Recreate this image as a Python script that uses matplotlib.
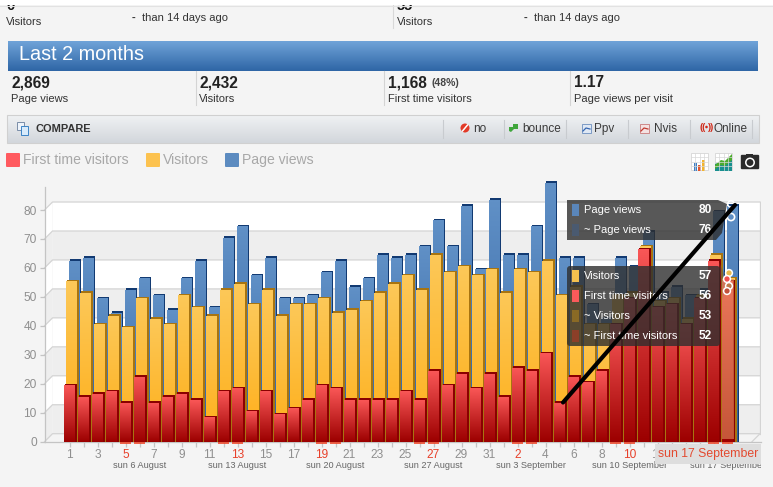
import numpy as np
import matplotlib
matplotlib.use("Agg")
import matplotlib.pyplot as plt
from matplotlib.patches import Rectangle, Polygon, Circle, FancyBboxPatch

plt.rcParams['font.family'] = ['Liberation Sans', 'DejaVu Sans']

W, H = 773, 487
# ---------- data ----------
day_labels = list(range(1, 32)) + list(range(1, 18))
first_time = [20,16,17,18,14,23,14,16,17,15,9,18,19,11,18,10,12,15,20,19,15,15,15,15,18,15,25,20,24,19,24,16,
              26,25,31,14,23,21,25,41,50,67,47,48,41,50,63,56]
visitors = [56,52,41,44,40,50,43,41,51,47,44,53,55,48,53,44,48,48,50,45,46,49,52,55,58,53,65,59,61,58,60,52,
            60,59,63,51,54,41,41,51,52,68,49,50,43,51,65,57]
page_views = [63,64,50,45,53,57,51,46,57,63,47,71,75,58,64,50,50,51,59,63,54,57,65,64,65,68,77,68,82,60,84,65,
              65,75,90,64,64,48,43,64,61,73,52,54,51,53,80,82]
y_ticks = [0,10,20,30,40,50,60,70,80]
weekend_idx = [4,5,11,12,18,19,25,26,32,33,39,40,46,47]
red_labels = [4,12,18,26,32,40,46]
sunday_idx = [5,12,19,26,33,40,47]
sunday_labels = ['sun 6 August','sun 13 August','sun 20 August','sun 27 August',
                 'sun 3 September','sun 10 September','sun 17 September']
stat_values = ['2,869','2,432','1,168','1.17']
stat_names = ['Page views','Visitors','First time visitors','Page views per visit']
legend_names = ['First time visitors','Visitors','Page views']
tip_top = [('Page views','80'),('~ Page views','76')]
tip_low = [('Visitors','57'),('First time visitors','56'),('~ Visitors','53'),('~ First time visitors','52')]

# ---------- scale helpers (pixel geometry of the chart) ----------
PX_DAY, PX_UNIT = 14.0, 2.896
X0, Y0 = 69.5, 441.7
AX_L, AX_R, AX_T = 44.5, 761.0, 170.0

fig = plt.figure(figsize=(W/100, H/100), dpi=100, facecolor='#f4f4f4')
ax = fig.add_axes([AX_L/W, 1-Y0/H, (AX_R-AX_L)/W, (Y0-AX_T)/H])
ax.set_xlim((AX_L-X0)/PX_DAY, (AX_R-X0)/PX_DAY)
ax.set_ylim(0, (Y0-AX_T)/PX_UNIT)
ax.patch.set_alpha(0)
ax.set_autoscale_on(False)

# 3D wall
dx, dy = 8/PX_DAY, 8/PX_UNIT
xl = (AX_L-X0)/PX_DAY
xb0, xb1 = xl+dx, (760-X0)/PX_DAY
grid = '#d4d4d4'
for i, v in enumerate(y_ticks[:-1]):
    c = '#eeeeee' if i % 2 == 0 else '#ffffff'
    ax.add_patch(Rectangle((xb0, v+dy), xb1-xb0, 10, fc=c, ec='none', zorder=1))
    ax.add_patch(Polygon([(xl, v), (xb0, v+dy), (xb0, v+10+dy), (xl, v+10)], fc=c, ec='none', zorder=1))
for v in y_ticks:
    ax.plot([xl, xb0, xb1], [v, v+dy, v+dy], color=grid, lw=0.9, zorder=1.5, clip_on=False)
ax.add_patch(Polygon([(xl, 0), (xb0, dy), (xb1, dy), (xb1-dx, 0)], fc='#f4f4f4', ec='none', zorder=1))
ax.plot([xb1, xb1], [dy, 80+dy], color=grid, lw=0.9, zorder=1.5)
ax.plot([xb1, xb1-dx], [dy, 0], color=grid, lw=0.9, zorder=1.5)

# bars
x = np.arange(len(day_labels))
FACE, SIDE, CAP = 10.7/PX_DAY, 2.0/PX_DAY, 0.5


def layer(vals, off_px, top_c, bot_c, dark, z):
    a, b = np.array(matplotlib.colors.to_rgb(top_c)), np.array(matplotlib.colors.to_rgb(bot_c))
    grad = np.linspace(0, 1, 64)[:, None, None] * (b-a)[None, None, :] + a[None, None, :]
    left = x + off_px/PX_DAY
    ax.bar(left+FACE, np.array(vals)-0.25, width=SIDE, align='edge', color=dark, zorder=z, lw=0)
    rects = ax.bar(left, np.array(vals)-CAP, width=FACE, align='edge', color=bot_c, zorder=z, lw=0)
    ax.bar(left+SIDE/2, CAP, bottom=np.array(vals)-CAP, width=FACE+SIDE/2, align='edge', color=dark, zorder=z+0.1, lw=0)
    for r in rects:
        im = ax.imshow(grad, extent=[r.get_x(), r.get_x()+r.get_width(), 0, r.get_height()],
                       aspect='auto', interpolation='bilinear', zorder=z+0.05, origin='upper')
        im.set_clip_path(r)


layer(page_views, -1.0, '#6090c6', '#2e5f9e', '#123a72', 3)
layer(visitors, -3.2, '#fcc858', '#ffae18', '#a87410', 4)
layer(first_time, -5.5, '#f95656', '#9c0000', '#8a0000', 5)

# axes
for s in ('top', 'right'):
    ax.spines[s].set_visible(False)
for s in ('left', 'bottom'):
    ax.spines[s].set_color('#c4c4c4')
    ax.spines[s].set_linewidth(0.9)
    ax.spines[s].set_zorder(2)
ax.spines['left'].set_bounds(0, (Y0-187)/PX_UNIT)
ax.set_yticks(y_ticks)
ax.set_xticks(x)
ax.set_xticklabels([str(d) if i % 2 == 0 else '' for i, d in enumerate(day_labels)])
ax.tick_params(axis='both', color='#c4c4c4', length=3.6, width=0.9, labelcolor='#8f8f8f', labelsize=8.6, pad=1.5)
ax.tick_params(axis='y', pad=2)
for i in red_labels:
    ax.get_xticklabels()[i].set_color('#e8402a')
ax.hlines([-0.55]*len(weekend_idx), np.array(weekend_idx)-5.5/PX_DAY, np.array(weekend_idx)+5.5/PX_DAY,
          color='#f03a1a', lw=1.1, clip_on=False, zorder=6)
clip_rect = Rectangle((0, 0), 761/W, 1, transform=fig.transFigure)
for i, t in zip(sunday_idx, sunday_labels):
    tx = ax.text(i, (Y0-466)/PX_UNIT, t, ha='center', va='center', fontsize=6.6, color='#666666', clip_on=True)
    tx.set_clip_path(clip_rect)

# ---------- page furniture and tooltips in pixel coordinates ----------
ui = fig.add_axes([0, 0, 1, 1], zorder=10)
ui.set_xlim(0, W); ui.set_ylim(H, 0); ui.axis('off'); ui.patch.set_alpha(0)
ui.set_autoscale_on(False)
T = lambda x_, y_, s, **k: ui.text(x_, y_, s, va='center', **{'color': '#333333', 'fontsize': 8.0, **k})

# clipped top strip
T(6, 6, '0', fontsize=10.5, fontweight='bold', color='#111111')
T(397, 6, '55', fontsize=10.5, fontweight='bold', color='#111111')
ui.add_patch(Rectangle((0, 0), W, 5, fc='white', ec='none', zorder=3))
ui.plot([0, W], [5.5, 5.5], color='#e2e2e2', lw=0.8, zorder=3)
T(6, 22, 'Visitors'); T(397, 22, 'Visitors')
T(132, 18, '-', fontweight='bold'); T(142, 18, 'than 14 days ago')
T(524, 18, '-', fontweight='bold'); T(534, 18, 'than 14 days ago')
ui.plot([392.5, 392.5], [5, 28], color='#d8d8d8', lw=0.8)

# header
hdr = ui.imshow(np.linspace(0, 1, 32)[:, None], extent=[8, 758, 71, 41], aspect='auto', origin='upper',
                cmap=matplotlib.colors.LinearSegmentedColormap.from_list('h', ['#6fa3d8', '#2f66a6']))
T(19, 55, 'Last 2 months', color='white', fontsize=14.3)

# stats
for sx, v, n in zip([11, 199, 388, 574], stat_values, stat_names):
    T(sx, 82.5, v, fontsize=11.2, fontweight='bold', color='#222222')
    T(sx, 99, n)
T(431, 83, '(48%)', fontsize=7.6, fontweight='bold', color='#444444')
for sx in [196, 384, 570]:
    ui.plot([sx, sx], [71, 105], color='#d4d4d4', lw=0.8)

# compare bar
cb = ui.imshow(np.linspace(0, 1, 16)[:, None], extent=[7, 759, 143, 115], aspect='auto', origin='upper',
               cmap=matplotlib.colors.LinearSegmentedColormap.from_list('c', ['#eff1f3', '#d3d7dc']))
ui.add_patch(Rectangle((7, 115), 752, 28, fc='none', ec='#d0d0d0', lw=0.8))
ui.add_patch(Rectangle((17, 122), 7, 8, fc='#eef4fb', ec='#7a8ea8', lw=0.7))
ui.add_patch(Rectangle((21, 126), 7, 9, fc='#d8ebfb', ec='#3d84c6', lw=0.7))
T(36, 129, 'COMPARE', fontweight='bold', fontsize=7.9, color='#333333')
for sx, n in zip([473, 522, 594, 654, 714], ['no', 'bounce', 'Ppv', 'Nvis', 'Online']):
    T(sx, 129, n, fontsize=8.5, color='#3a3a3a')
for sx in [443, 504, 566, 628, 690, 752]:
    ui.plot([sx, sx], [120, 138], color='#c8cbcf', lw=0.8)
ui.add_patch(Circle((465, 128), 4.5, fc='#e23a28', ec='none'))
ui.plot([462.5, 467.5], [131, 125], color='white', lw=1.1)
ui.add_patch(Polygon([(509, 131), (509, 127), (513, 127), (513, 124), (518, 124), (518, 129), (514, 129), (511, 132)],
                     fc='#3fa63c', ec='none'))
ui.add_patch(Rectangle((582, 124), 9, 9, fc='#dfe8f4', ec='#6d8fbf', lw=0.6))
ui.plot([583, 586, 590], [131, 128, 129], color='#3566b0', lw=0.9)
ui.add_patch(Rectangle((640, 124), 9, 9, fc='#f4e2e2', ec='#c97a7a', lw=0.6))
ui.plot([641, 644, 648], [131, 128, 129], color='#c23a30', lw=0.9)
T(699, 127, '((', color='#d02818', fontsize=6.5, fontweight='bold')
T(708, 127, '))', color='#d02818', fontsize=6.5, fontweight='bold')
ui.add_patch(Circle((706.5, 127), 1.3, fc='#d02818', ec='none'))

# legend
for (lx, tx_, c), n in zip([(6, 23, '#ff5a5f'), (146, 163, '#fcc24f'), (225, 242, '#5c8bc0')], legend_names):
    ui.add_patch(FancyBboxPatch((lx+1, 154), 12, 12, boxstyle='round,pad=1', fc=c, ec='none'))
    T(tx_, 160, n, color='#a8a8a8', fontsize=10.1)

# toolbar icons
for gx in (691, 715):
    ui.add_patch(Rectangle((gx, 153), 17, 17, fc='white', ec='#cfcfcf', lw=0.5))
    for k in range(1, 4):
        ui.plot([gx+k*17/4]*2, [153, 170], color='#d8d8d8', lw=0.5)
        ui.plot([gx, gx+17], [153+k*17/4]*2, color='#d8d8d8', lw=0.5)
ui.add_patch(Rectangle((694, 163), 3, 8, fc='#3f7fc4', ec='none'))
ui.add_patch(Rectangle((698, 165), 3, 6, fc='#e2562e', ec='none'))
ui.add_patch(Rectangle((702, 160), 3, 11, fc='#f4b42c', ec='none'))
ui.add_patch(Polygon([(715, 171), (715, 164), (721, 162), (725, 163), (732, 156), (732, 171)], fc='#188f8f', ec='none'))
ui.add_patch(Polygon([(715, 165), (721, 160), (725, 161), (732, 154), (732, 160), (725, 166), (721, 165), (715, 169)], fc='#4cab2d', ec='none'))
ui.add_patch(FancyBboxPatch((742, 156), 16, 12, boxstyle='round,pad=1.2', fc='#2a2a2a', ec='none'))
ui.add_patch(Rectangle((746, 153.5), 7, 3, fc='#2a2a2a', ec='none'))
ui.add_patch(Circle((750, 162.5), 4.2, fc='#2a2a2a', ec='white', lw=1.1))

# highlighted last bar
ui.add_patch(Polygon([(719, 262), (727, 280), (722.5, 300)], fc='#555555', alpha=0.4, ec='none', zorder=4))
ui.add_patch(Rectangle((722, 279), 11.5, 160, fc='#e08a5c', alpha=0.62, ec='none', zorder=4))

# tooltips
tip_c = '#2e2e2e'
ui.add_patch(Polygon([(567, 200), (718, 200), (727, 204), (722, 233), (716, 240), (567, 240)],
                     fc=tip_c, alpha=0.8, ec='none', zorder=5))
ui.add_patch(FancyBboxPatch((570, 269), 147, 74, boxstyle='round,pad=3', fc=tip_c, alpha=0.8, ec='none', zorder=5))
rows = zip([210, 230, 276, 296, 316, 336], tip_top+tip_low,
           ['#5a86ba', '#4a5a70', '#f4c04e', '#fb5a5a', '#8a6a25', '#8c3f28'])
for ry, (n, v), c in rows:
    ui.add_patch(Rectangle((572, ry-6), 7, 12, fc=c, ec='none', zorder=6))
    T(584, ry, n, color='white', fontsize=8.0, zorder=6)
    T(712, ry, v, color='white', fontsize=8.6, fontweight='bold', ha='right', zorder=6)

# hover markers
for cx, cy, fc in [(729, 273, '#e9b84e'), (727, 279, '#f25050'), (729, 286, '#c0794a'), (727, 291, '#c2503a')]:
    ui.add_patch(Circle((cx, cy), 3.4, fc=fc, ec='white', lw=1.1, zorder=7))
ui.add_patch(Circle((731, 217), 3.6, fc='none', ec='white', lw=1.2, zorder=7))
ui.add_patch(Circle((731, 204), 3.2, fc='none', ec='white', lw=1.1, zorder=7))

# hand-drawn black stroke
ui.plot([563, 735], [402.5, 205], color='black', lw=3.0, solid_capstyle='round', zorder=8)

# date tooltip
ui.add_patch(Rectangle((655, 444), 106, 19.5, fc='#dedede', ec='none', zorder=5))
T(708, 454, 'sun 17 September', color='#e34a30', fontsize=8.8, ha='center', zorder=6)

fig.savefig('out.png', dpi=100, facecolor=fig.get_facecolor())
